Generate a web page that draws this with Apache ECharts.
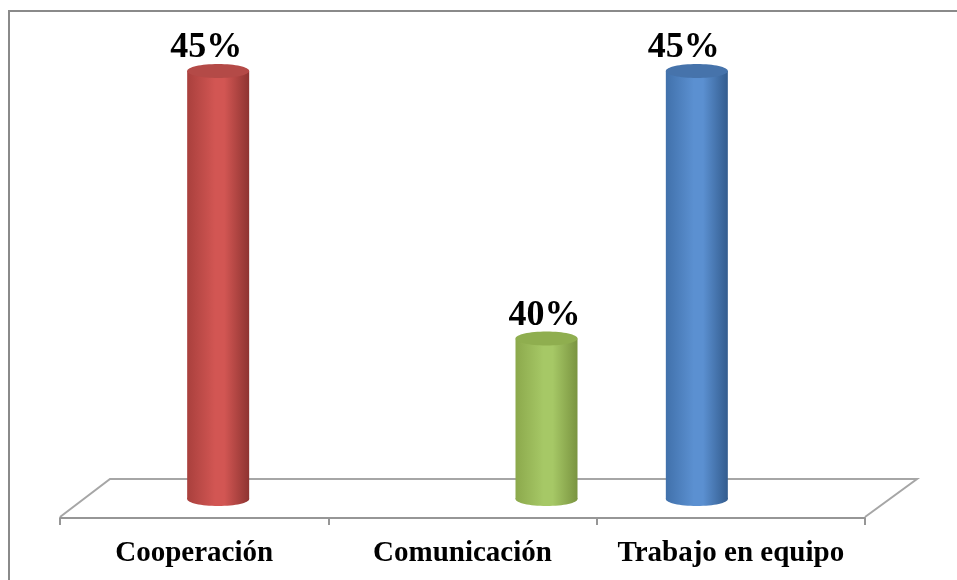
<!DOCTYPE html>
<html><head><meta charset="utf-8">
<script src="https://cdn.jsdelivr.net/npm/echarts@6/dist/echarts.min.js"></script>
<style>html,body{margin:0;padding:0;background:#fff}#c{width:957px;height:580px}</style>
</head><body><div id="c"></div>
<script>
// Data
const categories = ['Cooperación', 'Comunicación', 'Trabajo en equipo'];
const values = [45, 40, 45];
const valueLabels = ['45%', '40%', '45%'];
const axisMin = 37, axisMax = 45;

// Styling / layout (not data)
const barShift = [24, 84, -34];
const labelShift = [-12, -2, -13];
const palettes = [
  {dark:'#8e3431', mid:'#d25653', edge:'#a9403d', top:'#b44a47'},
  {dark:'#7a9440', mid:'#a6c866', edge:'#8ca94c', top:'#8fae4f'},
  {dark:'#335c8e', mid:'#5b90d1', edge:'#4171ab', top:'#4673ab'}
];
function grad(p){
  return new echarts.graphic.LinearGradient(0,0,1,0,[
    {offset:0, color:p.edge},{offset:0.45, color:p.mid},{offset:0.6, color:p.mid},{offset:1, color:p.dark}]);
}
const W = 62, EH = 14;
const chart = echarts.init(document.getElementById('c'));
chart.setOption({
  animation:false,
  backgroundColor:'#fff',
  grid:{left:60, right:92, top:71, bottom:81},
  xAxis:{type:'category', data:categories, offset:19,
    axisLine:{lineStyle:{color:'#969696', width:2}},
    axisTick:{show:true, interval:0, length:7, lineStyle:{color:'#969696', width:2}},
    axisLabel:{interval:0, hideOverlap:false, color:'#000', fontFamily:'Liberation Serif', fontWeight:'bold', fontSize:29, margin:21}
  },
  yAxis:{type:'value', min:axisMin, max:axisMax, show:false},
  graphic:[
    {type:'rect', shape:{x:9, y:11, width:960, height:580}, style:{fill:null, stroke:'#8a8a8a', lineWidth:2}, z:-10},
    {type:'polyline', shape:{points:[[60,517],[110,479],[917,479],[865,517]]}, style:{fill:null, stroke:'#a6a6a6', lineWidth:2}, z:-5}
  ],
  series:[{
    type:'custom',
    data: values.map((v,i)=>[i,v]),
    renderItem:function(params, api){
      const i = params.dataIndex;
      const top = api.coord([api.value(0), api.value(1)]);
      const base = api.coord([api.value(0), axisMin]);
      const cx = top[0] + barShift[i];
      const p = palettes[i];
      return {type:'group', children:[
        {type:'ellipse', shape:{cx:cx, cy:base[1], rx:W/2, ry:EH/2}, style:{fill:grad(p)}},
        {type:'rect', shape:{x:cx-W/2, y:top[1], width:W, height:base[1]-top[1]}, style:{fill:grad(p)}},
        {type:'ellipse', shape:{cx:cx, cy:top[1], rx:W/2, ry:EH/2}, style:{fill:p.top}},
        {type:'text', x:cx+labelShift[i], y:top[1]-5, style:{text:valueLabels[i], align:'center', verticalAlign:'bottom',
          fill:'#000', font:'bold 36px "Liberation Serif"'}}
      ]};
    }
  }]
});
</script></body></html>
